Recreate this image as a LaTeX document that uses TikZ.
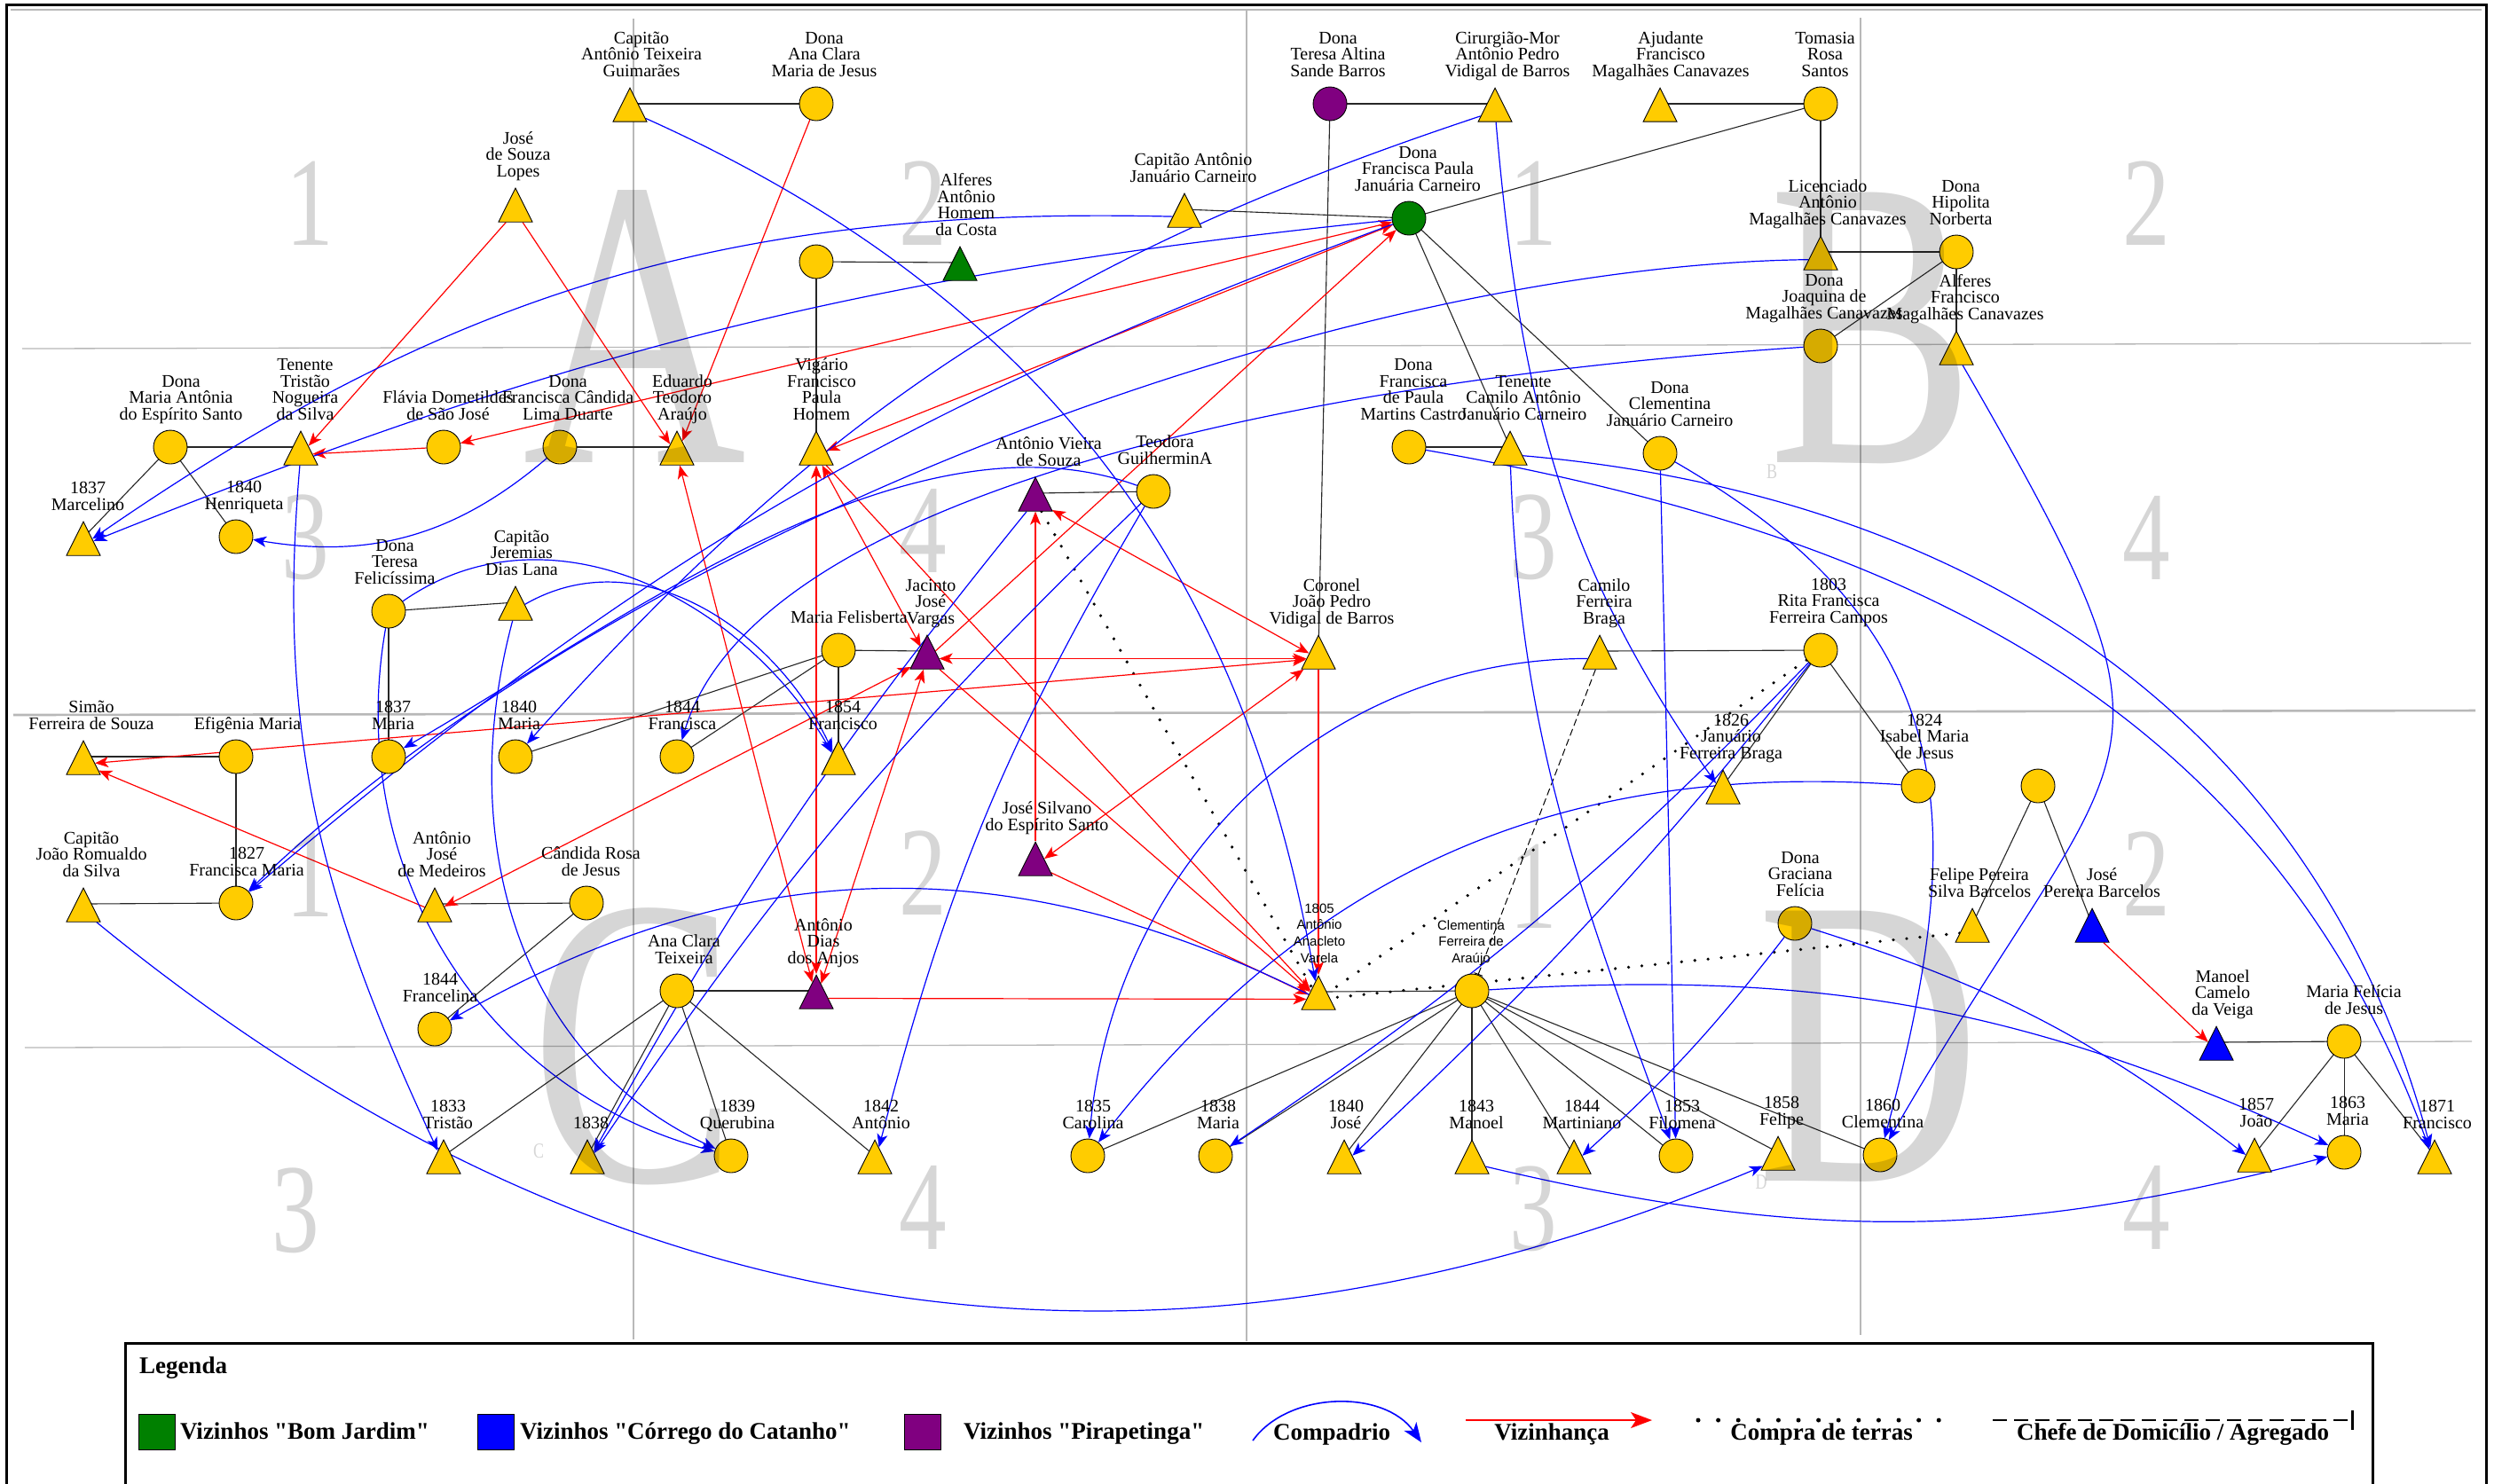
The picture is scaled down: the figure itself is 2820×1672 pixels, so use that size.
\documentclass[tikz,border=0pt]{standalone}
\usepackage{fontspec}
\usepackage{graphicx}
\setmainfont{Liberation Serif}
\newfontfamily\labsans{Liberation Sans}
\newfontfamily\legserif{Liberation Serif}
\usetikzlibrary{shapes.geometric,arrows.meta}

\definecolor{gold}{HTML}{FFCC00}
\definecolor{bjgreen}{HTML}{008000}
\definecolor{ccblue}{HTML}{0000FF}
\definecolor{pirpurple}{HTML}{800080}
\definecolor{gridgray}{HTML}{B8B8B8}
\definecolor{kinline}{HTML}{262626}

\pgfdeclarelayer{grid}
\pgfdeclarelayer{links}
\pgfdeclarelayer{shade}
\pgfsetlayers{grid,links,main,shade}

% one coordinate unit = one pixel of the finished picture = 0.2pt
\newcommand\labfont{\fontsize{4}{3.7}\selectfont\lineskiplimit=-20pt\relax}
\newcommand\sanslabfont{\labsans\fontsize{3}{3.72}\selectfont\lineskiplimit=-20pt\relax}
\newcommand\legfont{\legserif\fontsize{5.4}{5.4}\selectfont\bfseries}
\newcommand\letterfont{\fontsize{93}{93}\selectfont}
\newcommand\digitfont{\fontsize{28.6}{28.6}\selectfont}
\newcommand\tagfont{\fontsize{4.8}{4.8}\selectfont}

\tikzset{
  fem/.style={circle, draw=black, line width=0.18pt, fill=#1, minimum width=7.6pt, minimum height=7.6pt, inner sep=0pt},
  masc/.style={isosceles triangle, shape border rotate=90, isosceles triangle stretches,
    minimum width=7.6pt, minimum height=7.6pt, draw=black, line width=0.18pt, fill=#1, inner sep=0pt, anchor=apex},
  lab/.style={anchor=south, inner sep=0pt, align=center, font=\labfont},
  sanslab/.style={anchor=south, inner sep=0pt, align=center, font=\sanslabfont},
  kin/.style={draw=kinline, line width=0.22pt},
  nbr/.style={draw=red, line width=0.24pt, -{Stealth[length=3pt,width=2.4pt,inset=0.8pt]}},
  nbrboth/.style={draw=red, line width=0.24pt, {Stealth[length=3pt,width=2.4pt,inset=0.8pt]}-{Stealth[length=3pt,width=2.4pt,inset=0.8pt]}},
  godp/.style={draw=ccblue, line width=0.24pt, -{Stealth[length=3pt,width=2.4pt,inset=0.8pt]}},
  land/.style={draw=black, line width=0.72pt, line cap=round, dash pattern=on 0pt off 3pt},
  house/.style={draw=black, line width=0.2pt, dash pattern=on 1.6pt off 0.8pt},
  gridline/.style={draw=gridgray, line width=0.26pt},
  bigletter/.style={inner sep=0pt, text=black, text opacity=0.16, font=\letterfont},
  bigdigit/.style={inner sep=0pt, text=black, text opacity=0.16, font=\digitfont},
  tinyletter/.style={inner sep=0pt, text=black, text opacity=0.16, font=\tagfont},
  legtxt/.style={inner sep=0pt, anchor=base, font=\legfont},
  keybox/.style={draw=black, line width=0.2pt, fill=#1, minimum width=8.2pt, minimum height=8pt, inner sep=0pt}
}

% person with a circle (women) or a triangle (men); x, y in picture pixels, y downwards;
% <id>-c marks the middle of the symbol, where kinship lines meet
\newcommand\fperson[6][gold]{%
  \node[fem=#1] (#2) at (#3,-#4) {};
  \coordinate (#2-c) at (#3,-#4);
  \node[lab] (#2-name) at ({#3+#5},{-#4+25}) {#6\rule[-1pt]{0pt}{1pt}};}
\newcommand\mperson[6][gold]{%
  \node[masc=#1] (#2) at (#3,{-#4+19}) {};
  \coordinate (#2-c) at (#3,-#4);
  \node[lab] (#2-name) at ({#3+#5},{-#4+25}) {#6\rule[-1pt]{0pt}{1pt}};}

\begin{document}
\begin{tikzpicture}[x=0.2pt,y=0.2pt]
\useasboundingbox (0,0) rectangle (2820,-1672);

% ---------- frame and quadrant grid ----------
\begin{pgfonlayer}{grid}
  \fill[white] (0,0) rectangle (2820,-1672);
  \draw[line width=0.6pt] (7,-1690) -- (7,-5) -- (2802,-5) -- (2802,-1690);
  \draw[gridgray, line width=0.4pt] (12,-11) -- (2797,-11);
  \draw[gridline] (714,-21) -- (714,-1510);
  \draw[gridline, line width=0.52pt] (1405,-12) -- (1405,-1512);
  \draw[gridline] (2097,-20) -- (2097,-1505);
  \draw[gridline] (25,-393) -- (2785,-387);
  \draw[gridline, line width=0.52pt] (15,-806) -- (2790,-801);
  \draw[gridline] (28,-1181) -- (2786,-1174);
\end{pgfonlayer}

% ---------- people ----------
\mperson{capGuim}{710}{117}{13}{Capitão\\Antônio Teixeira\\Guimarães}
\fperson{anaClaraMJ}{920}{117}{9}{Dona\\Ana Clara\\Maria de Jesus}
\mperson{souzaLopes}{581}{230}{3}{José\\de Souza\\Lopes}
\mperson[bjgreen]{alferesHC}{1082}{296}{7}{Alferes\\Antônio\\Homem\\da Costa}
\node[fem=gold] (homemWife) at (920,-295) {};
\coordinate (homemWife-c) at (920,-295);
\mperson{capJan}{1335}{236}{10}{Capitão Antônio\\Januário Carneiro}
\fperson[pirpurple]{teresaAltina}{1499}{117}{9}{Dona\\Teresa Altina\\Sande Barros}
\mperson{cirurgiao}{1685}{117}{14}{Cirurgião-Mor\\Antônio Pedro\\Vidigal de Barros}
\mperson{ajudante}{1871}{117}{12}{Ajudante\\Francisco\\Magalhães Canavazes}
\fperson{tomasia}{2052}{117}{5}{Tomasia\\Rosa\\Santos}
\fperson[bjgreen]{franPJC}{1588}{246}{10}{Dona\\Francisca Paula\\Januária Carneiro}
\mperson{licenciado}{2052}{284}{8}{Licenciado\\Antônio\\Magalhães Canavazes}
\fperson{hipolita}{2205}{284}{5}{Dona\\Hipolita\\Norberta}
\fperson{joaquina}{2052}{390}{4}{Dona\\Joaquina de\\Magalhães Canavazes}
\mperson{alferesFMC}{2205}{391}{10}{Alferes\\Francisco\\Magalhães Canavazes}

\fperson{mariaAntonia}{192}{504}{12}{Dona\\Maria Antônia\\do Espírito Santo}
\mperson{tenTristao}{339}{504}{5}{Tenente\\Tristão\\Nogueira\\da Silva}
\fperson{flavia}{500}{504}{5}{Flávia Dometildes\\de São José}
\fperson{franCand}{631}{504}{9}{Dona\\Francisca Cândida\\Lima Duarte}
\mperson{eduardo}{763}{504}{6}{Eduardo\\Teodoro\\Araújo}
\mperson{vigario}{920}{504}{6}{Vigário\\Francisco\\Paula\\Homem}
\fperson{franPMC}{1588}{504}{5}{Dona\\Francisca\\de Paula\\Martins Castro}
\mperson{tenCamilo}{1702}{504}{15}{Tenente\\Camilo Antônio\\Januário Carneiro}
\fperson{clemJC}{1871}{511}{11}{Dona\\Clementina\\Januário Carneiro}
\mperson[pirpurple]{vieira}{1167}{556}{15}{Antônio Vieira\\de Souza}
\fperson{teodora}{1300}{554}{13}{Teodora\\GuilherminA}
\mperson{marcelino}{94}{606}{5}{1837\\Marcelino}
\fperson{henriqueta}{266}{605}{9}{1840\\Henriqueta}

\fperson{teresaF}{438}{689}{7}{Dona\\Teresa\\Felicíssima}
\mperson{jeremias}{581}{679}{7}{Capitão\\Jeremias\\Dias Lana}
\fperson{mariaFel}{945}{733}{12}{Maria Felisberta}
\mperson[pirpurple]{jacinto}{1045}{734}{4}{Jacinto\\José\\Vargas}
\mperson{coronel}{1486}{734}{15}{Coronel\\João Pedro\\Vidigal de Barros}
\mperson{camiloFB}{1803}{734}{5}{Camilo\\Ferreira\\Braga}
\fperson{rita}{2052}{733}{9}{1803\\Rita Francisca\\Ferreira Campos}

\mperson{simao}{94}{853}{9}{Simão\\Ferreira de Souza}
\fperson{efigenia}{266}{853}{13}{Efigênia Maria}
\fperson{maria37}{438}{853}{5}{1837\\Maria}
\fperson{maria40}{581}{853}{4}{1840\\Maria}
\fperson{francisca44}{763}{853}{6}{1844\\Francisca}
\mperson{francisco54}{945}{853}{5}{1854\\Francisco}
\mperson{januario}{1942}{886}{9}{1826\\Januário\\Ferreira Braga}
\fperson{isabel}{2162}{886}{7}{1824\\Isabel Maria\\de Jesus}
\node[fem=gold] (barcelosMother) at (2297,-886) {};
\coordinate (barcelosMother-c) at (2297,-886);

\mperson[pirpurple]{silvano}{1167}{967}{13}{José Silvano\\do Espírito Santo}
\mperson{romualdo}{94}{1019}{9}{Capitão\\João Romualdo\\da Silva}
\fperson{franMaria}{266}{1018}{12}{1827\\Francisca Maria}
\mperson{medeiros}{490}{1019}{8}{Antônio\\José\\de Medeiros}
\fperson{candida}{661}{1018}{5}{Cândida Rosa\\de Jesus}
\fperson{graciana}{2023}{1041}{6}{Dona\\Graciana\\Felícia}
\mperson{felipePSB}{2223}{1042}{8}{Felipe Pereira\\Silva Barcelos}
\mperson[ccblue]{josePB}{2358}{1042}{11}{José\\Pereira Barcelos}

\fperson{anaClaraT}{763}{1117}{8}{Ana Clara\\Teixeira}
\mperson[pirpurple]{antDias}{920}{1117}{8}{Antônio\\Dias\\dos Anjos}
\node[masc=gold] (varela) at (1486,-1099) {};
\coordinate (varela-c) at (1486,-1118);
\node[sanslab] (varela-name) at (1487,-1090) {1805\\Antônio\\Anacleto\\Varela\rule[-0.8pt]{0pt}{0.8pt}};
\node[fem=gold] (clemFA) at (1659,-1117) {};
\coordinate (clemFA-c) at (1659,-1117);
\node[sanslab] (clemFA-name) at (1658,-1090.5) {Clementina\\Ferreira de\\Araújo\rule[-0.8pt]{0pt}{0.8pt}};
\fperson{francelina}{490}{1160}{6}{1844\\Francelina}
\mperson[ccblue]{manoelCV}{2498}{1175}{7}{Manoel\\Camelo\\da Veiga}
\fperson{mariaFelicia}{2642}{1174}{11}{Maria Felícia\\de Jesus}

\mperson{tristao33}{500}{1303}{5}{1833\\Tristão}
\mperson{child38}{662}{1303}{4}{1838}
\fperson{querubina}{824}{1303}{7}{1839\\Querubina}
\mperson{antonio42}{986}{1303}{7}{1842\\Antônio}
\fperson{carolina}{1226}{1303}{6}{1835\\Carolina}
\fperson{maria38}{1370}{1303}{3}{1838\\Maria}
\mperson{jose40}{1515}{1303}{2}{1840\\José}
\mperson{manoel43}{1659}{1303}{5}{1843\\Manoel}
\mperson{martiniano}{1774}{1303}{9}{1844\\Martiniano}
\fperson{filomena}{1889}{1303}{7}{1853\\Filomena}
\mperson{felipe58}{2004}{1299}{4}{1858\\Felipe}
\fperson{clementina60}{2119}{1302}{3}{1860\\Clementina}
\mperson{joao57}{2541}{1301}{2}{1857\\João}
\fperson{maria63}{2642}{1299}{4}{1863\\Maria}
\mperson{francisco71}{2744}{1303}{3}{1871\\Francisco}

% ---------- connectors ----------
\begin{pgfonlayer}{links}
  % kinship (drawn between symbol middles, the symbols cover the ends)
  \draw[kin] (capGuim-c) -- (anaClaraMJ-c);
  \draw[kin] (homemWife-c) -- (alferesHC-c);
  \draw[kin] (homemWife-c) -- (vigario-c);
  \draw[kin] (capJan-c) -- (franPJC-c);
  \draw[kin] (teresaAltina-c) -- (cirurgiao-c);
  \draw[kin] (ajudante-c) -- (tomasia-c);
  \draw[kin] (tomasia-c) -- (franPJC-c);
  \draw[kin] (tomasia-c) -- (licenciado-c);
  \draw[kin] (licenciado-c) -- (hipolita-c);
  \draw[kin] (hipolita-c) -- (joaquina-c);
  \draw[kin] (hipolita-c) -- (alferesFMC-c);
  \draw[kin] (franPJC-c) -- (tenCamilo-c);
  \draw[kin] (franPJC-c) -- (clemJC-c);
  \draw[kin] (teresaAltina-c) -- (coronel-c);
  \draw[kin] (franPMC-c) -- (tenCamilo-c);
  \draw[kin] (mariaAntonia-c) -- (tenTristao-c);
  \draw[kin] (mariaAntonia-c) -- (marcelino-c);
  \draw[kin] (mariaAntonia-c) -- (henriqueta-c);
  \draw[kin] (franCand-c) -- (eduardo-c);
  \draw[kin] (vieira-c) -- (teodora-c);
  \draw[kin] (teresaF-c) -- (jeremias-c);
  \draw[kin] (teresaF-c) -- (maria37-c);
  \draw[kin] (mariaFel-c) -- (jacinto-c);
  \draw[kin] (mariaFel-c) -- (francisco54-c);
  \draw[kin] (mariaFel-c) -- (francisca44-c);
  \draw[kin] (mariaFel-c) -- (maria40-c);
  \draw[kin] (simao-c) -- (efigenia-c);
  \draw[kin] (efigenia-c) -- (franMaria-c);
  \draw[kin] (romualdo-c) -- (franMaria-c);
  \draw[kin] (medeiros-c) -- (candida-c);
  \draw[kin] (candida-c) -- (francelina-c);
  \draw[kin] (anaClaraT-c) -- (antDias-c);
  \foreach \c in {tristao33,child38,querubina,antonio42} \draw[kin] (anaClaraT-c) -- (\c-c);
  \draw[kin] (camiloFB-c) -- (rita-c);
  \draw[kin] (rita-c) -- (januario-c);
  \draw[kin] (rita-c) -- (isabel-c);
  \draw[kin] (barcelosMother-c) -- (felipePSB-c);
  \draw[kin] (barcelosMother-c) -- (josePB-c);
  \draw[kin] (manoelCV-c) -- (mariaFelicia-c);
  \foreach \c in {joao57,maria63,francisco71} \draw[kin] (mariaFelicia-c) -- (\c-c);
  \draw[kin] (varela-c) -- (clemFA-c);
  \foreach \c in {carolina,maria38,jose40,manoel43,martiniano,filomena,felipe58,clementina60}
    \draw[kin] (clemFA-c) -- (\c-c);

  % household head / lodger
  \draw[house, -{Bar[width=2pt]}] (camiloFB) -- (clemFA);

  % land purchases
  \draw[land] (vieira) -- (varela);
  \draw[land] (rita) -- (varela);
  \draw[land] (felipePSB) -- (varela);

  % neighbourhood
  \draw[nbr] (souzaLopes) -- (tenTristao);
  \draw[nbr] (souzaLopes) -- (eduardo);
  \draw[nbr] (anaClaraMJ) -- (eduardo);
  \draw[nbr] (flavia) -- (tenTristao);
  \draw[nbrboth] (flavia) -- (franPJC);
  \draw[nbrboth] (vigario) -- (franPJC);
  \draw[nbr] (jacinto) -- (franPJC);
  \draw[nbrboth] (antDias) -- (eduardo);
  \draw[nbrboth] (antDias) -- (vigario);
  \draw[nbrboth] (vigario) -- (jacinto);
  \draw[nbr] (vigario) -- (varela);
  \draw[nbrboth] (antDias) -- (jacinto);
  \draw[nbrboth] (coronel) -- (jacinto);
  \draw[nbrboth] (simao) -- (coronel);
  \draw[nbrboth] (vieira) -- (coronel);
  \draw[nbrboth] (silvano) -- (coronel);
  \draw[nbrboth] (jacinto) -- (medeiros);
  \draw[nbr] (medeiros) -- (simao);
  \draw[nbr] (antDias) -- (varela);
  \draw[nbr] (coronel) -- (varela);
  \draw[nbr] (silvano) -- (varela);
  \draw[nbr] (jacinto) -- (varela);
  \draw[nbr] (silvano) -- (vieira);
  \draw[nbr] (josePB) -- (manoelCV);

  % godparenthood
  \draw[godp] (capJan) to[bend right=18] (marcelino);
  \draw[godp] (franPJC) to[bend right=8] (marcelino);
  \draw[godp] (franPJC) to[bend right=10] (franMaria);
  \draw[godp] (franCand) to[bend left=25] (henriqueta);
  \draw[godp] (teodora) to[out=160,in=30,looseness=0.8] (maria37);
  \draw[godp] (joaquina) .. controls (1450,-430) and (850,-560) .. (francisca44);
  \draw[godp] (licenciado) .. controls (1500,-300) and (700,-600) .. (franMaria);
  \draw[godp] (cirurgiao) to[bend right=15] (maria40);
  \draw[godp] (teresaF) to[out=35,in=120] (francisco54);
  \draw[godp] (jeremias) to[out=30,in=115] (francisco54);
  \draw[godp] (teresaF) to[out=-100,in=165] (querubina);
  \draw[godp] (jeremias) to[out=-105,in=155] (querubina);
  \draw[godp] (tenTristao) to[out=-95,in=115] (tristao33);
  \draw[godp] (vieira) to[bend right=5] (child38);
  \draw[godp] (teodora) to[bend right=6] (child38);
  \draw[godp] (teodora) to[bend right=8] (antonio42);
  \draw[godp] (varela) to[bend right=28] (francelina);
  \draw[godp] (isabel) to[bend right=28] (carolina);
  \draw[godp] (camiloFB) to[out=180,in=85] (carolina);
  \draw[godp] (rita) to[bend left=6] (maria38);
  \draw[godp] (rita) to[bend left=4] (jose40);
  \draw[godp] (graciana) to[bend left=5] (martiniano);
  \draw[godp] (graciana) to[bend left=10] (joao57);
  \draw[godp] (clemFA) to[bend left=14] (maria63);
  \draw[godp] (manoel43) to[bend right=14] (maria63);
  \draw[godp] (romualdo) to[bend right=31] (felipe58);
  \draw[godp] (alferesFMC) to[out=-60,in=60,looseness=1.6] (clementina60);
  \draw[godp] (clemJC) to[out=-30,in=75,looseness=1.2] (clementina60);
  \draw[godp] (tenCamilo) to[out=-88,in=110] (filomena);
  \draw[godp] (clemJC) to (filomena);
  \draw[godp] (tenCamilo) to[out=-5,in=105] (francisco71);
  \draw[godp] (franPMC) to[out=-10,in=110] (francisco71);
  \draw[godp] (cirurgiao) to[out=-85,in=125] (januario);
  \draw[godp] (capGuim) to[bend left=28] (varela);
\end{pgfonlayer}

% ---------- quadrant letters and numbers ----------
\begin{pgfonlayer}{shade}
  \node[bigletter] (qA) at (715,-368) {\scalebox{0.75}[1]{A}};
  \node[bigletter] (qB) at (2110,-370) {\scalebox{0.75}[1]{B}};
  \node[bigletter] (qC) at (715,-1180) {\scalebox{0.75}[1]{C}};
  \node[bigletter] (qD) at (2106,-1180) {\scalebox{0.75}[1]{D}};
  \foreach \nm/\px/\py/\dg in {a1/349/229/1, a2/1040/229/2, a3/344/606/3, a4/1040/598/4,
      b1/1728/229/1, b2/2419/229/2, b3/1728/606/3, b4/2419/606/4,
      c1/349/986/1, c2/1040/984/2, c3/333/1365/3, c4/1040/1361/4,
      d1/1728/999/1, d2/2419/985/2, d3/1728/1363/3, d4/2419/1361/4}
    \node[bigdigit] (sub-\nm) at (\px,-\py) {\scalebox{0.75}[1]{\dg}};
  \node[tinyletter] (tagB) at (1997,-532) {\scalebox{0.75}[1]{B}};
  \node[tinyletter] (tagC) at (607,-1298) {\scalebox{0.75}[1]{C}};
  \node[tinyletter] (tagD) at (1985,-1333) {\scalebox{0.75}[1]{D}};
\end{pgfonlayer}

% ---------- legend ----------
\draw[line width=0.6pt, fill=white] (141,-1514) rectangle (2674,-1680);
\node[anchor=base west, inner sep=0pt, font=\legfont] (legTitle) at (156,-1548) {Legenda};
\node[keybox=bjgreen] (keyBJ) at (176.5,-1614) {};
\node[legtxt, anchor=base west] (keyBJ-t) at (202,-1622) {Vizinhos "Bom Jardim"};
\node[keybox=ccblue] (keyCC) at (559,-1614) {};
\node[legtxt, anchor=base west] (keyCC-t) at (585,-1622) {Vizinhos "Córrego do Catanho"};
\node[keybox=pirpurple] (keyPI) at (1039.5,-1614) {};
\node[legtxt, anchor=base west] (keyPI-t) at (1085,-1622) {Vizinhos "Pirapetinga"};
\coordinate (cpA) at (1412,-1624);
\coordinate (cpB) at (1602,-1626);
\draw[draw=ccblue, line width=0.32pt, -{Stealth[length=4.4pt,width=3.4pt,inset=1.2pt]}] (cpA) .. controls (1452,-1568) and (1560,-1566) .. (cpB);
\node[legtxt] (keyComp) at (1501,-1623) {Compadrio};
\coordinate (nbA) at (1652,-1601);
\coordinate (nbB) at (1862,-1601);
\draw[draw=red, line width=0.32pt, -{Stealth[length=4.8pt,width=3.6pt,inset=1.2pt]}] (nbA) -- (nbB);
\node[legtxt] (keyNb) at (1749,-1623) {Vizinhança};
\coordinate (ldA) at (1914,-1601);
\coordinate (ldB) at (2186,-1601);
\draw[draw=black, line width=1pt, line cap=round, dash pattern=on 0pt off 4.52pt] (ldA) -- (ldB);
\node[legtxt] (keyLd) at (2053,-1623) {Compra de terras};
\coordinate (hhA) at (2246,-1601);
\coordinate (hhB) at (2653,-1601);
\draw[draw=black, line width=0.52pt, dash pattern=on 3.2pt off 1.6pt, -{Bar[width=4.4pt]}] (hhA) -- (hhB);
\node[legtxt] (keyHh) at (2449,-1623) {Chefe de Domicílio / Agregado};
\end{tikzpicture}
\end{document}
